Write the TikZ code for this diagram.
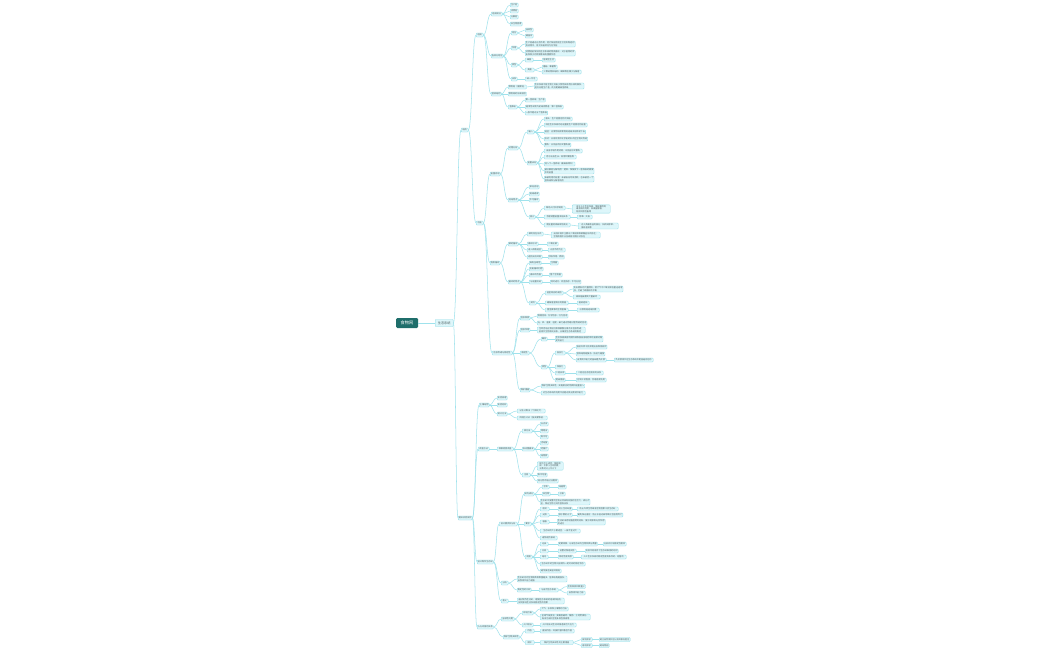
\documentclass[tikz,border=0pt]{standalone}
\usepackage{fontspec}
\setmainfont{Noto Sans CJK SC}
\usetikzlibrary{calc}
\definecolor{lnc}{HTML}{9FE2EC}
\definecolor{bxf}{HTML}{DDF6FA}
\definecolor{bxd}{HTML}{8FDCE7}
\definecolor{rootc}{HTML}{1F6E6B}
\definecolor{txc}{HTML}{4A5A5C}
\tikzset{x=1mm,y=-1mm,
  nbox/.style={draw=bxd, fill=bxf, line width=0.9pt, rounded corners=0.8mm,
    font=\fontsize{6}{7}\selectfont, text=txc, inner xsep=0.7mm, inner ysep=0.7mm,
    minimum height=4mm, anchor=west, align=left},
  rootbox/.style={fill=rootc, text=white, rounded corners=1.2mm, anchor=west,
    font=\fontsize{12}{14}\selectfont, minimum width=22mm, minimum height=10mm},
  conn/.style={draw=lnc, line width=1.5pt}}
\newcommand{\nb}[5]{\node[nbox,minimum width=#4mm] (#1) at (#2,#3) {#5};}
\newcommand{\lk}[2]{\draw[conn] let \p1=(#1.east), \p2=(#2.west) in (\p1) .. controls ({(\x1+\x2)/2},\y1) and ({(\x1+\x2)/2},\y2) .. (\p2);}
\newcommand{\lks}[2]{\foreach \cc in {#2} {\lk{#1}{\cc}}}
\begin{document}
\begin{tikzpicture}
\useasboundingbox[fill=white] (0,0) rectangle (1050,650);
% ---------- nodes ----------
\node[rootbox] (r) at (396,323) {食物网};
\node[nbox, font=\fontsize{9}{11}\selectfont, minimum width=18mm, minimum height=7mm] (n0) at (435,323) {生态系统};
\nb{A1}{461}{130}{7}{结构}
\nb{A2}{458}{518}{14}{相关实验探究}
% upper half
\nb{B1}{476}{35}{7}{组成}
\nb{B2}{476}{223}{7}{功能}
\nb{C1}{491}{14}{11}{组成成分}
\nb{C2}{491}{56}{11}{各成分地位}
\nb{C3}{491}{94}{10}{营养结构}
\nb{c11}{510}{5}{8}{生产者}
\nb{c12}{510}{11}{8}{消费者}
\nb{c13}{510}{17}{8}{分解者}
\nb{c14}{510}{24}{12}{非生物因素}
\nb{D1}{511}{33}{6}{地位}
\nb{D2}{511}{48}{6}{作用}
\nb{D3}{511}{65}{6}{类型}
\nb{D4}{511}{79}{6}{关系}
\nb{d11}{525}{30}{8}{自养型}
\nb{d12}{525}{36}{8}{最基本}
\nb{d21}{525}{44}{50}{生产者通过光合作用，把太阳能固定在它们所制造的\\有机物中，将太阳能转化为化学能}
\nb{d22}{525}{53}{50}{消费者能够加快生态系统的物质循环，对于植物的传\\粉和种子的传播等具有重要作用}
\nb{d31}{525}{60}{8}{细菌}
\nb{d311}{542}{60}{13}{营腐生生活}
\nb{d32}{525}{70}{9}{真菌}
\nb{d321}{542}{67}{15}{蘑菇、霉菌等}
\nb{d322}{542}{72}{39}{少数动物如蚯蚓、蜣螂等也属于分解者}
\nb{d41}{525}{79}{12}{缺一不可}
\nb{E1}{508}{87}{18}{食物链（捕食链）}
\nb{E2}{508}{94}{18}{食物网的形成原因}
\nb{E3}{508}{107}{9}{营养级}
\nb{e11}{534}{86}{48}{生态系统中各生物之间由于食物关系而形成的联系，\\起点总是生产者，终点是最高营养级}
\nb{e31}{525}{100}{20}{第一营养级：生产者}
\nb{e32}{525}{107}{38}{植食性动物为初级消费者，第二营养级}
\nb{e33}{525}{113}{22}{一般不超过五个营养级}
\nb{C4}{490}{174}{10}{能量流动}
\nb{C5}{490}{263}{9}{物质循环}
\nb{C6}{492}{353}{20}{信息传递与稳定性}
\nb{F1}{508}{148}{10}{过程分析}
\nb{F2}{508}{200}{10}{流动特点}
\nb{G1}{527}{132}{7}{输入}
\nb{G2}{527}{163}{9}{能量去向}
\nb{g11}{544}{119}{28}{源头：生产者固定的太阳能}
\nb{g12}{544}{125}{43}{流经生态系统的总能量是生产者固定的能量}
\nb{g13}{544}{132}{41}{途径：沿食物链和食物网逐级流动传递下去}
\nb{g14}{544}{139}{41}{形式：以有机物中化学能的形式在生物间传递}
\nb{g15}{544}{145}{25}{散失：以热能的形式散失掉}
\nb{g21}{544}{151}{38}{自身呼吸作用消耗，以热能形式散失}
\nb{g22}{544}{157}{32}{用于自身生长、发育和繁殖等}
\nb{g23}{544}{164}{30}{流入下一营养级（最高级除外）}
\nb{g24}{544}{171}{49}{被分解者分解利用：遗体、残骸及下一营养级的粪便\\中的能量}
\nb{g25}{544}{179}{47}{未被利用的能量：未被自身呼吸消耗，也未被后一个\\营养级和分解者利用}
\nb{H1}{529}{187}{10}{单向流动}
\nb{H2}{529}{194}{10}{逐级递减}
\nb{H3}{529}{200}{10}{不可循环}
\nb{H4}{529}{217}{6}{意义}
\nb{h1}{544}{208}{21}{帮助人们科学规划}
\nb{h11}{572}{209}{38}{设计人工生态系统，使能量得到\\最有效的利用，如桑基鱼塘、\\秸秆饲喂牲畜等}
\nb{h2}{544}{217}{26}{合理调整能量流动关系}
\nb{h21}{577}{217}{15}{除草、灭虫}
\nb{h3}{544}{225}{26}{使能量持续高效地流向}
\nb{h31}{578}{226}{40}{对人类最有益的部分，如农田除草、\\捕杀害虫等}
\nb{I1}{508}{244}{10}{碳的循环}
\nb{I2}{508}{282}{12}{循环的特点}
\nb{i1}{527}{234}{16}{碳的存在形式}
\nb{i11}{551}{235}{49}{无机环境中主要以二氧化碳和碳酸盐形式存在；\\生物群落中以含碳有机物形式存在}
\nb{i2}{527}{244}{11}{循环形式}
\nb{i21}{547}{244}{11}{二氧化碳}
\nb{i3}{527}{250}{15}{进入群落途径}
\nb{i31}{548}{250}{17}{光合作用为主}
\nb{i4}{527}{257}{15}{返回无机环境}
\nb{i41}{548}{257}{16}{呼吸作用、燃烧}
\nb{j1}{529}{263}{11}{具有全球性}
\nb{j11}{550}{263}{8}{生物圈}
\nb{j2}{529}{269}{13}{反复循环利用}
\nb{j3}{529}{275}{13}{循环的范围}
\nb{j31}{549}{275}{13}{整个生物圈}
\nb{j4}{529}{282}{13}{与能量流动}
\nb{j41}{550}{282}{30}{同时进行、相互依存、不可分割}
\nb{j5}{529}{303}{7}{实例}
\nb{k1}{545}{293}{18}{温室效应的成因}
\nb{k11}{573}{289}{49}{化石燃料的大量燃烧，使大气中二氧化碳含量迅速增\\加，打破了碳循环的平衡}
\nb{k12}{573}{297}{27}{森林植被遭到大量破坏}
\nb{k2}{545}{303}{23}{缓解温室效应的措施}
\nb{k21}{577}{303}{12}{植树造林}
\nb{k3}{545}{310}{23}{重金属等的生物富集}
\nb{k31}{577}{310}{22}{沿食物链逐级积累}
\nb{L1}{520}{318}{9}{信息种类}
\nb{l11}{537}{316}{29}{物理信息、化学信息、行为信息}
\nb{l12}{537}{323}{49}{光、声、温度、湿度、磁力通过物理过程传递的信息}
\nb{L2}{520}{330}{9}{信息作用}
\nb{l21}{537}{330}{48}{生命活动正常进行和种群繁衍离不开信息传递；\\能调节生物种间关系，以维持生态系统的稳定}
\nb{L3}{520}{353}{9}{稳定性}
\nb{m1}{541}{339}{6}{概念}
\nb{m11}{555}{339}{47}{生态系统具有的保持或恢复自身结构和功能相对稳\\定的能力}
\nb{m2}{541}{367}{6}{类型}
\nb{m21}{555}{353}{10}{抵抗力}
\nb{m211}{576}{347}{30}{抵抗外界干扰并使自身保持原状}
\nb{m212}{576}{354}{28}{营养结构越复杂，抵抗力越强}
\nb{m213}{576}{360}{30}{自我调节能力的基础是负反馈}
\nb{m2131}{614}{360}{39}{负反馈调节在生态系统中是普遍存在的}
\nb{m22}{555}{367}{10}{恢复力}
\nb{m23}{555}{373}{10}{二者关系}
\nb{m231}{576}{373}{27}{二者往往存在相反的关系}
\nb{m24}{555}{380}{10}{提高措施}
\nb{m241}{576}{380}{30}{控制干扰程度，合理适度利用}
\nb{L4}{520}{390}{9}{保护措施}
\nb{l41}{541}{386}{41}{保护生物多样性，实施相应的物质和能量投入}
\nb{l42}{541}{393}{44}{对生态系统的利用不应超过其自我调节能力}
% lower half
\nb{P1}{479}{405}{10}{土壤动物}
\nb{P2}{478}{449}{11}{调查方法}
\nb{P3}{477}{562}{16}{设计制作生态缸}
\nb{P4}{477}{627}{16}{人与环境的关系}
\nb{p11}{497}{398}{10}{实验原理}
\nb{p12}{497}{405}{10}{实验材料}
\nb{p13}{497}{414}{10}{统计方法}
\nb{p131}{517}{411}{28}{记名计算法（个体较大）}
\nb{p132}{517}{418}{30}{目测估计法（按多度等级）}
\nb{Q}{497}{449}{16}{种群密度调查}
\nb{q1}{522}{431}{10}{样方法}
\nb{q11}{540}{424}{8}{五点法}
\nb{q12}{540}{431}{8}{等距法}
\nb{q13}{540}{437}{8}{取平均}
\nb{q2}{522}{449}{12}{标志重捕法}
\nb{q21}{540}{443}{8}{活动强}
\nb{q22}{540}{449}{8}{范围大}
\nb{q23}{540}{456}{8}{动物类}
\nb{q3}{522}{475}{8}{注意}
\nb{q31}{537}{466}{26}{样方大小适宜，随机取\\样，不掺入主观因素，\\计数时计上不计下}
\nb{q32}{537}{475}{10}{取平均值}
\nb{q33}{537}{481}{21}{标记物不能过分醒目}
\nb{M}{499}{524}{18}{设计要求及分析}
\nb{M1}{524}{494}{9}{缸内成分}
\nb{M11}{542}{487}{7}{生物}
\nb{M111}{558}{487}{8}{动植物}
\nb{M12}{542}{494}{8}{非生物}
\nb{M121}{558}{494}{7}{土壤}
\nb{M13}{540}{502}{49}{生态缸中放置的生物必须具有较强的生活力，成分齐\\全，保证生物之间的营养关系}
\nb{M2}{524}{524}{7}{要求}
\nb{M21}{540}{509}{9}{密封}
\nb{M211}{558}{509}{14}{封上生态缸盖}
\nb{M2111}{577}{509}{41}{防止外界生物或非生物因素干扰生态缸}
\nb{M22}{540}{515}{9}{光照}
\nb{M221}{558}{515}{14}{放于散射光下}
\nb{M2211}{577}{515}{45}{避免阳光直射，防止水温过高导致水生植物死亡}
\nb{M23}{540}{522}{9}{容器}
\nb{M231}{557}{522}{48}{生态缸采用较强透明的材料，便于观察和光合作用\\的进行}
\nb{M24}{540}{531}{40}{生态缸的大小要适宜，一般不宜过大}
\nb{M25}{540}{538}{17}{避免剧烈振动}
\nb{M3}{525}{557}{7}{观察}
\nb{M31}{540}{544}{8}{记录}
\nb{M311}{558}{544}{38}{定期观察，记录生态缸内生物种类与数量}
\nb{M3111}{603}{544}{23}{分析并比较稳定性差异}
\nb{M32}{540}{551}{8}{比较}
\nb{M321}{558}{551}{18}{设置对照组实验}
\nb{M3211}{585}{551}{33}{比较不同条件下生态缸维持的时间}
\nb{M33}{540}{557}{8}{结论}
\nb{M331}{558}{557}{15}{稳定性是有限}
\nb{M3311}{581}{557}{45}{人工生态系统的稳定性是有条件的、短暂的}
\nb{M34}{540}{564}{45}{生态缸中的生物只能保持一定时间的稳定状态}
\nb{M35}{540}{571}{21}{避免放在高温环境处}
\nb{N1}{501}{583}{7}{分析}
\nb{N11}{517}{579}{49}{生态缸内的生物种类和数量越多，营养结构越复杂，\\自我调节能力越强}
\nb{N12}{517}{590}{14}{稳定性的比较}
\nb{N121}{539}{590}{19}{与自然生态系统}
\nb{N1211}{567}{586.5}{18}{生物种类和数量少}
\nb{N1212}{567}{593}{18}{自我调节能力弱}
\nb{N2}{501}{601}{7}{意义}
\nb{N21}{517}{601}{47}{通过制作生态缸，理解生态系统的组成和结构，\\探究影响生态系统稳定性的因素}
\nb{R1}{501}{619}{13}{全球性问题}
\nb{R11}{522}{613}{11}{环境污染}
\nb{R111}{540}{609}{28}{大气、水体和土壤等的污染}
\nb{R112}{540}{617}{50}{全球气候变化、臭氧层破坏、酸雨、土地荒漠化、\\海洋污染和生物多样性锐减等}
\nb{R12}{522}{625}{11}{人口增长}
\nb{R121}{540}{625}{36}{人口增长对生态环境造成巨大压力}
\nb{R2}{503}{637}{15}{保护生物多样性}
\nb{R21}{525}{631}{9}{价值}
\nb{R211}{540}{631}{34}{直接价值、间接价值和潜在价值}
\nb{R22}{525}{642.5}{9}{保护}
\nb{R221}{540}{642.5}{33}{保护生物多样性的主要措施}
\nb{R2211}{581}{639.5}{11}{就地保护}
\nb{R22111}{599}{639.5}{31}{建立自然保护区以及风景名胜区}
\nb{R2212}{581}{645.5}{11}{易地保护}
\nb{R22121}{599}{645.5}{10}{建动物园}
% ---------- connectors ----------
\lk{r}{n0}
\lks{n0}{A1,A2}
\lks{A1}{B1,B2}
\lks{B1}{C1,C2,C3}
\lks{C1}{c11,c12,c13,c14}
\lks{C2}{D1,D2,D3,D4}
\lks{D1}{d11,d12}
\lks{D2}{d21,d22}
\lks{D3}{d31,d32}
\lk{d31}{d311}
\lks{d32}{d321,d322}
\lk{D4}{d41}
\lks{C3}{E1,E2,E3}
\lk{E1}{e11}
\lks{E3}{e31,e32,e33}
\lks{B2}{C4,C5,C6}
\lks{C4}{F1,F2}
\lks{F1}{G1,G2}
\lks{G1}{g11,g12,g13,g14,g15}
\lks{G2}{g21,g22,g23,g24,g25}
\lks{F2}{H1,H2,H3,H4}
\lks{H4}{h1,h2,h3}
\lk{h1}{h11}
\lk{h2}{h21}
\lk{h3}{h31}
\lks{C5}{I1,I2}
\lks{I1}{i1,i2,i3,i4}
\lk{i1}{i11}
\lk{i2}{i21}
\lk{i3}{i31}
\lk{i4}{i41}
\lks{I2}{j1,j2,j3,j4,j5}
\lk{j1}{j11}
\lk{j3}{j31}
\lk{j4}{j41}
\lks{j5}{k1,k2,k3}
\lks{k1}{k11,k12}
\lk{k2}{k21}
\lk{k3}{k31}
\lks{C6}{L1,L2,L3,L4}
\lks{L1}{l11,l12}
\lk{L2}{l21}
\lks{L3}{m1,m2}
\lk{m1}{m11}
\lks{m2}{m21,m22,m23,m24}
\lks{m21}{m211,m212,m213}
\lk{m213}{m2131}
\lk{m23}{m231}
\lk{m24}{m241}
\lks{L4}{l41,l42}
\lks{A2}{P1,P2,P3,P4}
\lks{P1}{p11,p12,p13}
\lks{p13}{p131,p132}
\lk{P2}{Q}
\lks{Q}{q1,q2,q3}
\lks{q1}{q11,q12,q13}
\lks{q2}{q21,q22,q23}
\lks{q3}{q31,q32,q33}
\lks{P3}{M,N1,N2}
\lks{M}{M1,M2,M3}
\lks{M1}{M11,M12,M13}
\lk{M11}{M111}
\lk{M12}{M121}
\lks{M2}{M21,M22,M23,M24,M25}
\lk{M21}{M211}
\lk{M211}{M2111}
\lk{M22}{M221}
\lk{M221}{M2211}
\lk{M23}{M231}
\lks{M3}{M31,M32,M33,M34,M35}
\lk{M31}{M311}
\lk{M311}{M3111}
\lk{M32}{M321}
\lk{M321}{M3211}
\lk{M33}{M331}
\lk{M331}{M3311}
\lks{N1}{N11,N12}
\lk{N12}{N121}
\lks{N121}{N1211,N1212}
\lk{N2}{N21}
\lks{P4}{R1,R2}
\lks{R1}{R11,R12}
\lks{R11}{R111,R112}
\lk{R12}{R121}
\lks{R2}{R21,R22}
\lk{R21}{R211}
\lk{R22}{R221}
\lks{R221}{R2211,R2212}
\lk{R2211}{R22111}
\lk{R2212}{R22121}
\end{tikzpicture}
\end{document}
